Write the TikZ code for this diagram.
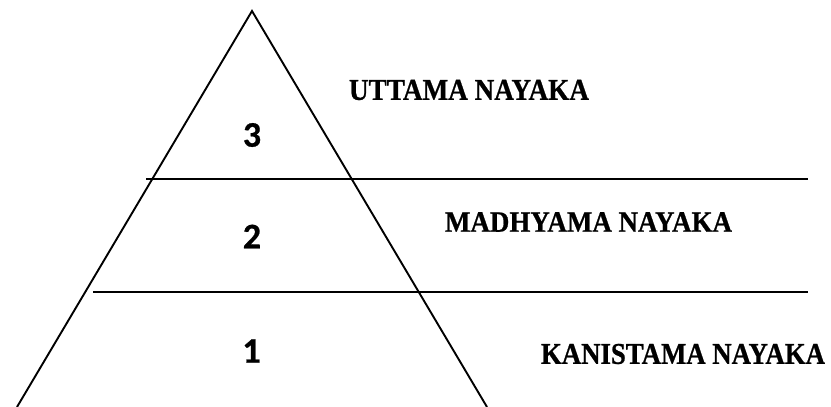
\documentclass[tikz,border=0pt]{standalone}
\usepackage{fontspec}
\setmainfont{Liberation Serif}
\newfontfamily\numfont{Carlito Bold}[FakeBold=0.6]
\newfontfamily\lblfont{Liberation Serif Bold}[FakeBold=0.8]
\usepackage{graphicx}
\tikzset{
  edge/.style={line width=1.9pt, black},
  level/.style={line width=2.1pt, black},
  lbl/.style={inner sep=0pt, anchor=center, font=\lblfont},
  num/.style={inner sep=0pt, anchor=center, font=\numfont\fontsize{36}{40}\selectfont}
}
\begin{document}
\begin{tikzpicture}[x=1pt,y=-1pt]
\useasboundingbox (0,0) rectangle (831,407);
\coordinate (apex) at (252,11);
\coordinate (bl) at (17,407);
\coordinate (br) at (487,407);
\coordinate (l1a) at (146,179);
\coordinate (l1b) at (808,179);
\coordinate (l2a) at (93,292);
\coordinate (l2b) at (808,292);
\draw[edge] (bl) -- (apex) -- (br);
\draw[level] (l1a) -- (l1b);
\draw[level] (l2a) -- (l2b);
\node[num] (n3) at (252,135) {3};
\node[num] (n2) at (252,236.5) {2};
\node[num] (n1) at (251.5,351) {1};
\node[lbl] (t3) at (469,90) {\resizebox{240pt}{20pt}{UTTAMA NAYAKA}};
\node[lbl] (t2) at (588.5,222) {\resizebox{287pt}{19.5pt}{MADHYAMA NAYAKA}};
\node[lbl] (t1) at (683,354) {\resizebox{284pt}{20pt}{KANISTAMA NAYAKA}};
\end{tikzpicture}
\end{document}
